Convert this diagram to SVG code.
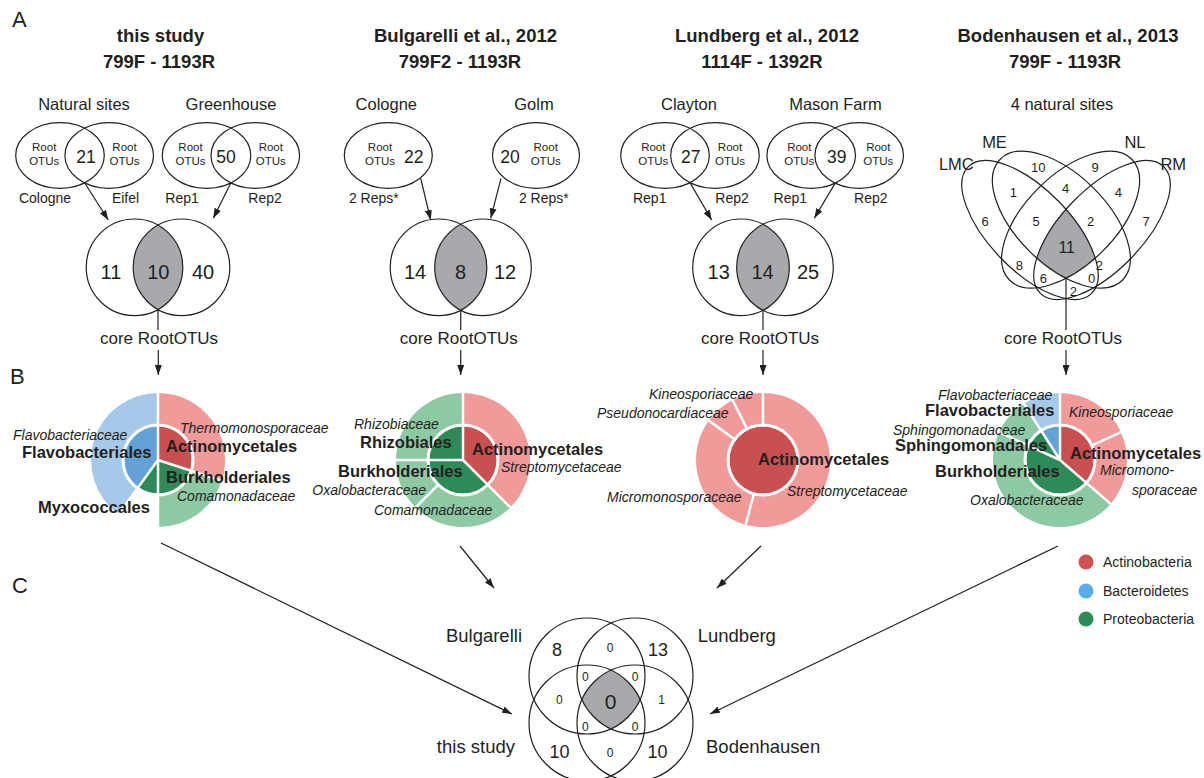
<svg xmlns="http://www.w3.org/2000/svg" width="1204" height="778" viewBox="0 0 1204 778">
<defs>
<style>
text{font-family:"Liberation Sans",Arial,Helvetica,sans-serif;fill:#231f20}
.ttl{font-size:18.5px;font-weight:bold;text-anchor:middle}
.pl{font-size:22px}
.g{font-size:16.5px;text-anchor:middle}
.s{font-size:14px;text-anchor:middle}
.ro{font-size:11.5px;text-anchor:middle}
.n1{font-size:17.5px;text-anchor:middle}
.n2{font-size:20px;text-anchor:middle}
.n3{font-size:13px;text-anchor:middle}
.n4{font-size:16px;text-anchor:middle}
.fam{font-size:14px;font-style:italic}
.ord{font-size:16.5px;font-weight:bold}
.core{font-size:17px;text-anchor:middle}
.ol{fill:none;stroke:#231f20;stroke-width:1.2}
.ln{fill:none;stroke:#231f20;stroke-width:1.2}
.sep{stroke:#fff;stroke-width:2.5;fill:none}
.ring{fill:none;stroke:#fff;stroke-width:3}
.sh{fill:#a7a9ac}
.aR{fill:#f09a9a}.dR{fill:#c95050}
.aB{fill:#a5cae9}.dB{fill:#62a2d6}
.aG{fill:#8dcaa3}.dG{fill:#2e8a57}
.cv{font-size:18px;text-anchor:middle}
.cs{font-size:12px;text-anchor:middle}
.cl{font-size:18.5px}
.leg{font-size:14px}
</style>
<marker id="ah" viewBox="0 0 10 7" refX="10" refY="3.5" markerWidth="10" markerHeight="7" markerUnits="userSpaceOnUse" orient="auto"><path d="M0,0L10,3.5L0,7z" fill="#231f20"/></marker>
<clipPath id="v1b"><circle cx="181.5" cy="267.3" r="48.3"/></clipPath>
<clipPath id="v2b"><circle cx="483" cy="267.3" r="48.3"/></clipPath>
<clipPath id="v3b"><circle cx="785" cy="267.3" r="48.3"/></clipPath>
<clipPath id="cME"><ellipse cx="1061.4" cy="219.6" rx="86" ry="45" transform="rotate(44.6 1061.4 219.6)"/></clipPath>
<clipPath id="cNL"><ellipse cx="1070.6" cy="219.6" rx="86" ry="45" transform="rotate(-44.6 1070.6 219.6)"/></clipPath>
<clipPath id="cRM"><ellipse cx="1102" cy="230" rx="88.4" ry="40.5" transform="rotate(-45.8 1102 230)"/></clipPath>
<clipPath id="cB"><circle cx="635" cy="676" r="58"/></clipPath>
<clipPath id="cC"><circle cx="587" cy="723" r="58"/></clipPath>
<clipPath id="cD"><circle cx="635" cy="723" r="58"/></clipPath>
</defs>
<rect width="1204" height="778" fill="#fff"/>

<g id="panel-labels">
<text class="pl" x="12" y="27">A</text>
<text class="pl" x="10" y="384">B</text>
<text class="pl" x="12" y="593">C</text>
</g>

<g id="titles">
<text class="ttl" x="160.5" y="42">this study</text>
<text class="ttl" x="159" y="68">799F - 1193R</text>
<text class="ttl" x="465.5" y="42">Bulgarelli et al., 2012</text>
<text class="ttl" x="460" y="68">799F2 - 1193R</text>
<text class="ttl" x="767" y="42">Lundberg et al., 2012</text>
<text class="ttl" x="762" y="68">1114F - 1392R</text>
<text class="ttl" x="1068" y="42">Bodenhausen et al., 2013</text>
<text class="ttl" x="1065" y="68">799F - 1193R</text>
</g>

<!-- Panel A, study 1 -->
<g id="natural-sites">
<text class="g" x="84" y="110">Natural sites</text>
<ellipse class="ol" cx="60" cy="155.5" rx="44.3" ry="32.8"/>
<ellipse class="ol" cx="109.2" cy="155.5" rx="44.3" ry="32.8"/>
<text class="ro" x="44.2" y="150.7">Root</text><text class="ro" x="44.2" y="165">OTUs</text>
<text class="ro" x="124.5" y="150.7">Root</text><text class="ro" x="124.5" y="165">OTUs</text>
<text class="n1" x="86" y="162.7">21</text>
<text class="s" x="45" y="202.7">Cologne</text>
<text class="s" x="125.5" y="202.7">Eifel</text>
</g>
<g id="greenhouse">
<text class="g" x="231" y="110">Greenhouse</text>
<ellipse class="ol" cx="206.5" cy="155.5" rx="44.3" ry="32.8"/>
<ellipse class="ol" cx="255.3" cy="155.5" rx="44.3" ry="32.8"/>
<text class="ro" x="190.5" y="150.7">Root</text><text class="ro" x="190.5" y="165">OTUs</text>
<text class="ro" x="270.8" y="150.7">Root</text><text class="ro" x="270.8" y="165">OTUs</text>
<text class="n1" x="226" y="162.7">50</text>
<text class="s" x="182" y="202.7">Rep1</text>
<text class="s" x="265" y="202.7">Rep2</text>
</g>
<g id="venn-this-study">
<g clip-path="url(#v1b)"><circle class="sh" cx="134.5" cy="267.3" r="48.3"/></g>
<circle class="ol" cx="134.5" cy="267.3" r="48.3"/>
<circle class="ol" cx="181.5" cy="267.3" r="48.3"/>
<text class="n2" x="111" y="278.5">11</text>
<text class="n2" x="158.3" y="278.5">10</text>
<text class="n2" x="203" y="278.5">40</text>
<text class="core" x="159" y="344">core RootOTUs</text>
</g>

<!-- Panel A, Bulgarelli -->
<g id="bulg-cologne">
<text class="g" x="386.3" y="110">Cologne</text>
<ellipse class="ol" cx="388.3" cy="155.5" rx="44" ry="32.8"/>
<text class="ro" x="380" y="150.7">Root</text><text class="ro" x="380" y="165">OTUs</text>
<text class="n1" x="413.7" y="162.7">22</text>
<text class="s" x="373.8" y="202.7">2 Reps*</text>
</g>
<g id="bulg-golm">
<text class="g" x="534" y="110">Golm</text>
<ellipse class="ol" cx="536" cy="155.5" rx="43.5" ry="32.8"/>
<text class="ro" x="545.7" y="150.7">Root</text><text class="ro" x="545.7" y="165">OTUs</text>
<text class="n1" x="510" y="162.7">20</text>
<text class="s" x="543.8" y="202.7">2 Reps*</text>
</g>
<g id="venn-bulgarelli">
<g clip-path="url(#v2b)"><circle class="sh" cx="438.5" cy="267.3" r="48.3"/></g>
<circle class="ol" cx="438.5" cy="267.3" r="48.3"/>
<circle class="ol" cx="483" cy="267.3" r="48.3"/>
<text class="n2" x="415" y="278.5">14</text>
<text class="n2" x="460.5" y="278.5">8</text>
<text class="n2" x="505" y="278.5">12</text>
<text class="core" x="458.8" y="344">core RootOTUs</text>
</g>

<!-- Panel A, Lundberg -->
<g id="clayton">
<text class="g" x="689" y="110">Clayton</text>
<ellipse class="ol" cx="665" cy="155.5" rx="44.3" ry="32.8"/>
<ellipse class="ol" cx="715" cy="155.5" rx="44.3" ry="32.8"/>
<text class="ro" x="653.3" y="150.7">Root</text><text class="ro" x="653.3" y="165">OTUs</text>
<text class="ro" x="730" y="150.7">Root</text><text class="ro" x="730" y="165">OTUs</text>
<text class="n1" x="690.8" y="162.7">27</text>
<text class="s" x="649.7" y="202.7">Rep1</text>
<text class="s" x="732" y="202.7">Rep2</text>
</g>
<g id="mason-farm">
<text class="g" x="835.5" y="110">Mason Farm</text>
<ellipse class="ol" cx="811.2" cy="155.5" rx="44.3" ry="32.8"/>
<ellipse class="ol" cx="859.2" cy="155.5" rx="44.3" ry="32.8"/>
<text class="ro" x="799.3" y="150.7">Root</text><text class="ro" x="799.3" y="165">OTUs</text>
<text class="ro" x="878.3" y="150.7">Root</text><text class="ro" x="878.3" y="165">OTUs</text>
<text class="n1" x="836.7" y="162.7">39</text>
<text class="s" x="790.3" y="202.7">Rep1</text>
<text class="s" x="870.8" y="202.7">Rep2</text>
</g>
<g id="venn-lundberg">
<g clip-path="url(#v3b)"><circle class="sh" cx="741" cy="267.3" r="48.3"/></g>
<circle class="ol" cx="741" cy="267.3" r="48.3"/>
<circle class="ol" cx="785" cy="267.3" r="48.3"/>
<text class="n2" x="718.7" y="278.5">13</text>
<text class="n2" x="762.5" y="278.5">14</text>
<text class="n2" x="808" y="278.5">25</text>
<text class="core" x="760" y="344">core RootOTUs</text>
</g>

<!-- Panel A, Bodenhausen -->
<g id="venn-bodenhausen">
<text class="g" x="1062" y="110">4 natural sites</text>
<g clip-path="url(#cME)"><g clip-path="url(#cNL)"><g clip-path="url(#cRM)"><ellipse class="sh" cx="1030" cy="230" rx="88.4" ry="40.5" transform="rotate(45.8 1030 230)"/></g></g></g>
<ellipse class="ol" cx="1030" cy="230" rx="88.4" ry="40.5" transform="rotate(45.8 1030 230)"/>
<ellipse class="ol" cx="1102" cy="230" rx="88.4" ry="40.5" transform="rotate(-45.8 1102 230)"/>
<ellipse class="ol" cx="1061.4" cy="219.6" rx="86" ry="45" transform="rotate(44.6 1061.4 219.6)"/>
<ellipse class="ol" cx="1070.6" cy="219.6" rx="86" ry="45" transform="rotate(-44.6 1070.6 219.6)"/>
<text class="g" x="994.5" y="148.3">ME</text>
<text class="g" x="1135" y="148.3">NL</text>
<text class="g" x="956.3" y="170">LMC</text>
<text class="g" x="1173.3" y="170">RM</text>
<text class="n3" x="1038.3" y="171.7">10</text>
<text class="n3" x="1095" y="171.7">9</text>
<text class="n3" x="1013.3" y="196.7">1</text>
<text class="n3" x="1065.7" y="192.7">4</text>
<text class="n3" x="1118.3" y="196.7">4</text>
<text class="n3" x="985" y="226">6</text>
<text class="n3" x="1036" y="226">5</text>
<text class="n3" x="1090.7" y="226">2</text>
<text class="n3" x="1146" y="226">7</text>
<text class="n4" x="1066.7" y="252.7">11</text>
<text class="n3" x="1019.3" y="270">8</text>
<text class="n3" x="1099.3" y="270">2</text>
<text class="n3" x="1043.3" y="282.7">6</text>
<text class="n3" x="1091.7" y="282.7">0</text>
<text class="n3" x="1073.3" y="296">2</text>
<text class="core" x="1063" y="344">core RootOTUs</text>
</g>

<!-- Panel B pies -->
<g id="pie-this-study">
<path class="aR" d="M158,460L158,393A67,67 0 0 1 221.72,480.70Z"/>
<path class="aG" d="M158,460L221.72,480.70A67,67 0 0 1 158,527Z"/>
<path class="aB" d="M158,460L118.62,514.20A67,67 0 0 1 158,393Z"/>
<path class="dR" d="M158,460L158,426.5A33.5,33.5 0 0 1 189.86,470.35Z"/>
<path class="dG" d="M158,460L189.86,470.35A33.5,33.5 0 0 1 158,493.5Z"/>
<path class="dG" d="M158,460L158,493.5A33.5,33.5 0 0 1 138.31,487.10Z"/>
<path class="dB" d="M158,460L138.31,487.10A33.5,33.5 0 0 1 158,426.5Z"/>
<path class="sep" d="M158,460L158,392M158,460L221.72,480.70M158,460L158,528M158,460L118.62,514.20"/>
<circle class="ring" cx="158" cy="460" r="35"/>
<text class="fam" x="180" y="433">Thermomonosporaceae</text>
<text class="ord" x="166" y="452">Actinomycetales</text>
<text class="fam" x="13" y="440">Flavobacteriaceae</text>
<text class="ord" x="22" y="458">Flavobacteriales</text>
<text class="ord" x="166" y="483">Burkholderiales</text>
<text class="fam" x="177" y="501">Comamonadaceae</text>
<text class="ord" x="38" y="513">Myxococcales</text>
</g>

<g id="pie-bulgarelli">
<path class="aR" d="M463,460L463,393A67,67 0 0 1 510.38,507.38Z"/>
<path class="aG" d="M463,460L510.38,507.38A67,67 0 0 1 415.62,507.38Z"/>
<path class="aG" d="M463,460L415.62,507.38A67,67 0 0 1 396,460Z"/>
<path class="aG" d="M463,460L396,460A67,67 0 0 1 463,393Z"/>
<path class="dR" d="M463,460L463,426.5A33.5,33.5 0 0 1 486.69,483.69Z"/>
<path class="dG" d="M463,460L486.69,483.69A33.5,33.5 0 0 1 429.5,460Z"/>
<path class="dG" d="M463,460L429.5,460A33.5,33.5 0 0 1 463,426.5Z"/>
<path class="sep" d="M463,460L463,392M463,460L510.38,507.38M463,460L395,460M438.25,484.75L415.62,507.38"/>
<circle class="ring" cx="463" cy="460" r="35"/>
<text class="fam" x="354" y="429">Rhizobiaceae</text>
<text class="ord" x="360" y="448">Rhizobiales</text>
<text class="ord" x="472" y="455">Actinomycetales</text>
<text class="fam" x="501" y="472">Streptomycetaceae</text>
<text class="ord" x="338" y="477">Burkholderiales</text>
<text class="fam" x="426" y="495" text-anchor="end">Oxalobacteraceae</text>
<text class="fam" x="374" y="515">Comamonadaceae</text>
</g>

<g id="pie-lundberg">
<circle class="aR" cx="763" cy="460" r="67"/>
<circle class="dR" cx="763" cy="460" r="33.5"/>
<path class="sep" d="M763,426.5L763,392M754.33,492.36L745.66,524.72M735.90,440.31L708.80,420.62M747.79,430.15L732.58,400.30"/>
<circle class="ring" cx="763" cy="460" r="35"/>
<text class="fam" x="649" y="399">Kineosporiaceae</text>
<text class="fam" x="597" y="418">Pseudonocardiaceae</text>
<text class="ord" x="758" y="465">Actinomycetales</text>
<text class="fam" x="607" y="502">Micromonosporaceae</text>
<text class="fam" x="787" y="496">Streptomycetaceae</text>
</g>

<g id="pie-bodenhausen">
<path class="aR" d="M1060,460L1060,393A67,67 0 0 1 1110.64,503.88Z"/>
<path class="aG" d="M1060,460L1110.64,503.88A67,67 0 1 1 1023.78,403.64Z"/>
<path class="aB" d="M1060,460L1023.78,403.64A67,67 0 0 1 1060,393Z"/>
<path class="dR" d="M1060,460L1060,426.5A33.5,33.5 0 0 1 1085.32,481.94Z"/>
<path class="dG" d="M1060,460L1085.32,481.94A33.5,33.5 0 1 1 1041.89,431.82Z"/>
<path class="dB" d="M1060,460L1041.89,431.82A33.5,33.5 0 0 1 1060,426.5Z"/>
<path class="sep" d="M1060,460L1060,392M1060,460L1110.64,503.88M1060,460L999.05,432.17M1060,460L1023.78,403.64M1090.47,446.08L1120.95,432.17"/>
<circle class="ring" cx="1060" cy="460" r="35"/>
<text class="fam" x="938" y="400">Flavobacteriaceae</text>
<text class="ord" x="925" y="416">Flavobacteriales</text>
<text class="fam" x="1069" y="417">Kineosporiaceae</text>
<text class="fam" x="893" y="435">Sphingomonadaceae</text>
<text class="ord" x="895" y="451">Sphingomonadales</text>
<text class="ord" x="1070" y="459">Actinomycetales</text>
<text class="fam" x="1100" y="475">Micromono-</text>
<text class="fam" x="1132" y="495">sporaceae</text>
<text class="ord" x="935" y="477">Burkholderiales</text>
<text class="fam" x="970" y="505">Oxalobacteraceae</text>
</g>

<g id="legend">
<circle cx="1086" cy="562" r="7.5" fill="#cf5151"/>
<text class="leg" x="1103" y="567">Actinobacteria</text>
<circle cx="1086" cy="591" r="7.5" fill="#5aabe9"/>
<text class="leg" x="1103" y="596">Bacteroidetes</text>
<circle cx="1086" cy="619" r="7.5" fill="#2e8b57"/>
<text class="leg" x="1103" y="624">Proteobacteria</text>
</g>

<!-- Panel C -->
<g id="venn-comparison">
<g clip-path="url(#cB)"><g clip-path="url(#cC)"><g clip-path="url(#cD)"><circle class="sh" cx="587" cy="676" r="58"/></g></g></g>
<circle class="ol" cx="587" cy="676" r="58"/>
<circle class="ol" cx="635" cy="676" r="58"/>
<circle class="ol" cx="587" cy="723" r="58"/>
<circle class="ol" cx="635" cy="723" r="58"/>
<text class="cl" x="522" y="642" text-anchor="end">Bulgarelli</text>
<text class="cl" x="697.7" y="642">Lundberg</text>
<text class="cl" x="515" y="753" text-anchor="end">this study</text>
<text class="cl" x="706" y="753">Bodenhausen</text>
<text class="cv" x="557" y="656">8</text>
<text class="cs" x="610" y="651.7">0</text>
<text class="cv" x="658" y="656">13</text>
<text class="cs" x="585.3" y="680.7">0</text>
<text class="cs" x="635" y="680.7">0</text>
<text class="cs" x="559.3" y="704.3">0</text>
<text x="610.7" y="709.3" style="font-size:21px;text-anchor:middle">0</text>
<text class="cs" x="661.7" y="704.3">1</text>
<text class="cs" x="585.3" y="730.7">0</text>
<text class="cs" x="635" y="730.7">0</text>
<text class="cv" x="559.5" y="758.3">10</text>
<text class="cs" x="610" y="757.3">0</text>
<text class="cv" x="657.5" y="758.3">10</text>
</g>

<g id="connectors">
<path class="ln" marker-end="url(#ah)" d="M84.6,182.8L108.3,220"/>
<path class="ln" marker-end="url(#ah)" d="M230.9,182.8L213.3,218.3"/>
<path class="ln" d="M158,309.5L158,330"/>
<path class="ln" marker-end="url(#ah)" d="M158.3,350L158.3,375"/>
<path class="ln" marker-end="url(#ah)" d="M420.7,178.3L430.7,220"/>
<path class="ln" marker-end="url(#ah)" d="M501,178.3L490.7,218.3"/>
<path class="ln" d="M460.75,310.2L460.75,330"/>
<path class="ln" marker-end="url(#ah)" d="M460.7,350L460.7,375"/>
<path class="ln" marker-end="url(#ah)" d="M690,182.6L711.7,220"/>
<path class="ln" marker-end="url(#ah)" d="M835.2,183.1L814.3,218.3"/>
<path class="ln" d="M763,310.3L763,330"/>
<path class="ln" marker-end="url(#ah)" d="M763,350L763,375"/>
<path class="ln" d="M1066,278.5L1066,330"/>
<path class="ln" marker-end="url(#ah)" d="M1066,350L1066,375"/>
<path class="ln" marker-end="url(#ah)" d="M161,543L512,714"/>
<path class="ln" marker-end="url(#ah)" d="M460,546L494,588"/>
<path class="ln" marker-end="url(#ah)" d="M761,546L717,588"/>
<path class="ln" marker-end="url(#ah)" d="M1058,546L710,714"/>
</g>
</svg>
